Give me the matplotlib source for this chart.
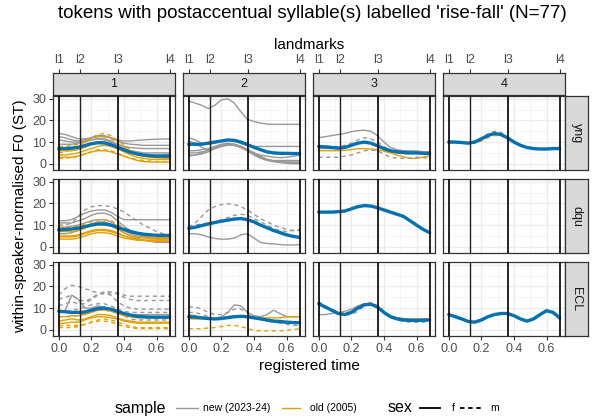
import matplotlib.pyplot as plt
from matplotlib.lines import Line2D

# registered time grid for all contours
t = [0.0, 0.04, 0.08, 0.12, 0.16, 0.20, 0.24, 0.28, 0.32, 0.36,
     0.40, 0.44, 0.48, 0.52, 0.56, 0.60, 0.64, 0.68]

landmarks = [0.0, 0.13, 0.364, 0.68]
landmark_labels = ["l1", "l2", "l3", "l4"]
groups = ["yng", "dqu", "ECL"]
positions = ["1", "2", "3", "4"]

# contours: (sample, sex, F0 values)
yng_1 = [
    ("new", "f", [14, 13.5, 12.5, 11.5, 11.5, 12, 12.5, 12.5, 12, 11, 10.5, 10.5, 10.8, 11, 11.2, 11.3, 11.4, 11.5]),
    ("new", "f", [12.5, 12, 11, 10.5, 11, 12, 13, 13, 12, 10.5, 9.5, 9, 8.8, 8.5, 8.5, 8.5, 8.5, 8.5]),
    ("new", "f", [11, 10.5, 10, 10, 10.5, 11, 11.5, 11.5, 10.5, 9, 8, 7.5, 7.2, 7, 7, 7, 7, 7]),
    ("new", "f", [9, 9, 9, 9.5, 10, 11, 11.5, 11, 10, 8.5, 7, 6, 5.5, 5, 5, 5, 5, 5]),
    ("new", "f", [6, 6.5, 7, 7.5, 8.5, 9.5, 10, 10, 9, 7.5, 6, 5, 4.5, 4, 4, 4, 4.2, 4.5]),
    ("old", "m", [5, 5.5, 6.5, 8, 10, 12, 13.5, 14, 13, 11, 8.5, 6.5, 5, 4, 3.5, 3, 2.8, 2.5]),
    ("old", "m", [8, 8, 8.5, 9, 10, 11.5, 12.5, 12.5, 11.5, 9.5, 7.5, 6, 5, 4.5, 4, 3.5, 3.5, 3.5]),
    ("old", "f", [4, 4, 4.5, 5, 6, 7, 8, 8.5, 8, 7, 5.5, 4, 3, 2.5, 2, 2, 2, 2]),
    ("old", "f", [3, 3, 3, 3.5, 4.5, 5.5, 6, 6, 5.5, 4.5, 3.5, 2.5, 1.5, 1, 0.8, 0.8, 0.8, 0.8]),
    ("old", "f", [6, 6, 6, 6.5, 7.5, 9, 10, 10, 9, 7.5, 6, 5, 4.2, 3.5, 3, 2.8, 2.5, 2.5]),
    ("old", "m", [2.5, 2.5, 3, 3.5, 4.5, 5.5, 6.5, 6.5, 6, 5, 3.5, 2.5, 2, 1.5, 1.2, 1, 1, 1]),
]
yng_2 = [
    ("new", "f", [29, 28, 27, 25.5, 27, 29.5, 30, 28, 24, 20.5, 19.5, 18.8, 18.3, 18.2, 18.2, 18.2, 18.2, 18.2]),
    ("new", "f", [12, 11, 9.5, 9, 9.5, 10.5, 11, 10.5, 9.5, 8.5, 8, 8, 8, 8, 8, 8, 8, 8]),
    ("new", "f", [10.5, 9.5, 7.5, 6.5, 7, 8, 9, 8.8, 8, 6.5, 5, 4, 3.5, 3, 2.8, 3, 3.5, 4]),
    ("new", "f", [4, 4, 4.5, 5.5, 7, 8.5, 9, 8.5, 7.5, 6, 4, 2.5, 1.5, 1, 0.8, 0.8, 0.8, 0.8]),
    ("new", "f", [3.5, 4, 5, 6.5, 7.5, 8.5, 9, 9, 8, 6.5, 4.5, 3, 2, 1.5, 1.5, 1.5, 1.5, 1.5]),
    ("new", "f", [6, 6, 6.5, 7, 8, 9, 9.5, 9, 8, 6.5, 5, 3.5, 2, 1.2, 1, 0.8, 0.5, 0.5]),
    ("new", "f", [5, 5, 5.5, 6, 7, 8, 8.5, 8.5, 7.5, 6, 4.5, 3, 2, 1, 0.5, 0.2, 0, 0]),
]
yng_3 = [
    ("new", "f", [12, 12.5, 13, 13.5, 14, 14.8, 15.3, 15.5, 15, 13, 10, 7.5, 6.5, 6, 6, 5.8, 5.6, 5.5]),
    ("new", "m", [8, 8, 8, 8, 8.5, 9.5, 11, 12, 11.5, 10, 8, 6, 5, 4.5, 4.5, 5, 5, 5]),
    ("new", "f", [7, 7, 7, 7, 7.5, 8.5, 9.5, 10, 9.5, 8, 6.5, 5.5, 5, 5, 5.5, 5.8, 5.5, 5]),
    ("old", "f", [6, 6, 6, 6, 6.2, 6.5, 7, 7, 6.8, 6.5, 5.8, 5, 4, 3.2, 2.5, 2.5, 3, 3.5]),
    ("new", "m", [3, 3, 3, 3, 3.5, 4, 5, 6, 6.3, 6, 4.5, 3, 2.5, 2.5, 2.5, 3, 2.8, 2.5]),
]
yng_4 = [
    ("new", "m", [10.5, 10.3, 10, 9.8, 10.5, 12, 13.8, 15, 14.5, 12.5, 10.5, 8.8, 7.8, 7.2, 7, 7.2, 7.5, 7.5]),
    ("old", "m", [9.8, 9.8, 9.6, 9.3, 9.5, 10.5, 12, 13, 13, 11.5, 9.8, 8.3, 7.3, 6.8, 6.6, 6.6, 6.8, 6.5]),
]
dqu_1 = [
    ("new", "m", [10, 10, 11, 14, 17, 18.5, 19, 19, 18.5, 17.5, 16, 14, 12, 10, 8.5, 7, 6, 5.5]),
    ("new", "f", [12, 12, 12.5, 14, 15.5, 16.5, 17, 17, 16, 14, 12.5, 12.5, 12.5, 12.5, 12.5, 12.5, 12.5, 12.5]),
    ("new", "f", [11, 11, 11, 12, 13, 14.5, 15.5, 15.5, 14.5, 12, 9.5, 7.5, 6, 5, 4.5, 4, 3.5, 3.5]),
    ("new", "f", [6, 6, 6.5, 7.5, 9, 10.5, 11.5, 11.5, 10.5, 8.5, 6.5, 5, 4, 3, 2.5, 2, 2, 2]),
    ("new", "f", [9, 9, 9.5, 10, 11, 12, 12.5, 12.5, 11.5, 9.5, 7.5, 6, 5, 4.5, 4, 4, 4, 4]),
    ("old", "f", [5, 5, 5, 5.5, 6.5, 7.5, 8, 8, 7.5, 6.5, 5, 4, 3.5, 3, 3, 3, 3, 3]),
    ("old", "f", [3.5, 3.5, 3.5, 4, 5, 6, 6.5, 6.5, 6, 5, 4, 3.5, 3, 3, 3, 3.2, 3.5, 3.5]),
    ("old", "f", [7, 7, 7, 7.5, 8.5, 10, 11, 11, 10, 8, 6.5, 5, 4.5, 4, 4, 4, 4, 4]),
    ("old", "m", [9, 9, 9, 9.5, 10.5, 11.5, 12.5, 12.5, 12, 10.5, 8.5, 7, 6, 5, 4.5, 4, 4, 4]),
    ("old", "f", [4.5, 4.5, 4.5, 5, 6, 7, 7.5, 7.5, 7, 6, 5, 4, 3.5, 3, 2.5, 2.5, 2.5, 2.5]),
]
dqu_2 = [
    ("new", "m", [9, 11, 14, 17, 18.5, 19.5, 19.8, 19.5, 18.5, 17, 15, 13, 11.5, 10, 9, 8, 7.5, 7.5]),
    ("new", "m", [9, 10, 10.5, 11, 11.5, 12.5, 13.5, 14.5, 15, 14.5, 13, 11.5, 10, 8.5, 7.5, 7, 7.5, 8]),
    ("new", "f", [6, 6, 5.5, 4.5, 3.8, 3.5, 3.5, 4, 5.5, 6, 4, 2, 1.5, 1.3, 1, 0.8, 0.8, 1]),
]
dqu_3 = []
dqu_4 = []
ecl_1 = [
    ("new", "m", [16, 19, 20.5, 20, 19, 18, 17, 16.5, 17, 17, 16, 15.5, 15.5, 15.5, 15.5, 15.5, 15.5, 15.5]),
    ("new", "m", [14, 15, 16, 14, 13, 14.5, 16.5, 17.5, 17.5, 16.5, 15, 14, 13.5, 13.5, 13.5, 13.5, 13.5, 13.5]),
    ("new", "m", [11, 12, 13, 12, 12, 14, 16, 17, 16, 13, 11, 10, 9.5, 9.5, 9.5, 9.5, 9.5, 9.5]),
    ("new", "f", [8, 9, 16, 14, 10, 10, 11, 10.5, 9.5, 8.5, 7.5, 7, 7, 7, 7, 7, 7, 7]),
    ("new", "m", [6, 6, 6, 6.5, 7.5, 8.5, 9.5, 10, 9.5, 8, 6.5, 5, 4.5, 4.5, 4.5, 4.5, 4.5, 4.5]),
    ("new", "m", [8.5, 8.5, 9, 9.5, 10.5, 11.5, 12, 12, 11, 9.5, 8.5, 8, 8, 8, 8, 8, 8, 8]),
    ("old", "f", [3, 3, 3.5, 3.5, 4.5, 5.5, 6, 6, 5.5, 5, 4, 3.5, 3, 3, 3, 3, 3, 3]),
    ("old", "f", [4, 4.5, 5, 4.5, 5, 6, 7, 7, 6.5, 5.5, 4.5, 4, 3.5, 3.5, 3.5, 3.5, 3.5, 3.5]),
    ("old", "m", [2, 2, 2, 2, 2.5, 3.5, 4.5, 5, 4.5, 3.5, 2.5, 1.5, 1, 1, 1, 1, 1, 1]),
    ("old", "m", [1, 1, 1, 1.5, 2.5, 3.5, 4, 4, 3.5, 2.5, 1.5, 1, 0.5, 0.5, 0.5, 0.5, 0.5, 0.5]),
    ("old", "f", [6, 6, 6.5, 6.5, 7, 8, 9, 9, 8.5, 7.5, 6.5, 6, 5.5, 5.5, 5.5, 5.5, 5.5, 5.5]),
]
ecl_2 = [
    ("new", "f", [7, 6.5, 5.5, 5, 5, 6, 8, 11.5, 11, 8, 6.5, 6, 7, 9, 7.5, 6, 6, 6]),
    ("new", "m", [10.5, 10.5, 9.5, 8, 7, 7, 8, 9.5, 9.5, 8, 6, 5, 4, 3.5, 3.2, 3, 3, 3]),
    ("new", "m", [8, 8, 7, 6, 5, 5, 5.5, 6, 6.5, 6.5, 6, 5, 4, 3.5, 3, 2.5, 2, 2]),
    ("old", "f", [5, 5, 5, 5, 5, 5.5, 6, 6.5, 6.5, 6, 5.5, 5.5, 5.5, 5.5, 5.5, 6, 6, 6]),
    ("old", "m", [0.5, 0.5, 0.5, 0.8, 1, 1.5, 2, 2, 1.5, 0.5, -0.3, -0.5, -0.5, -0.5, -0.5, -0.3, 0, 0.5]),
]
ecl_3 = [
    ("new", "m", [13, 11, 9, 8, 7, 7, 8.5, 11, 12, 11, 8.5, 6, 4.5, 3.8, 3.5, 3.5, 3.5, 4]),
    ("new", "f", [7, 7, 7.5, 8, 8.5, 9.5, 11, 12, 12, 10.5, 8, 6.5, 5.5, 5.2, 5, 5, 5, 5]),
    ("old", "m", [12, 11, 9.5, 8, 7.5, 8.5, 10.5, 12, 12.5, 11, 8.5, 6.5, 5.2, 4.8, 4.8, 5, 5, 5]),
]
ecl_4 = [
    ("old", "f", [6.8, 5.8, 4.8, 3.6, 3.3, 4.3, 5.8, 6.8, 7.3, 7.3, 6.3, 4.8, 3.6, 4.6, 6.7, 8.5, 7.8, 5.3]),
]

# mean contour per panel
mean_yng = [
    [7, 7, 7.2, 7.6, 8.4, 9.2, 9.7, 9.6, 8.8, 7.6, 6.4, 5.3, 4.5, 4.0, 3.7, 3.5, 3.5, 3.5],
    [9, 9, 9, 9.5, 10, 10.5, 11, 10.8, 10, 8.8, 7.6, 6.5, 5.5, 5, 4.8, 4.8, 4.7, 4.7],
    [8, 7.8, 7.5, 7.2, 7.5, 8.5, 9.5, 10, 9.5, 8.3, 7, 6, 5.5, 5.2, 5, 5, 4.8, 4.7],
    [10, 10, 9.8, 9.5, 10, 11.5, 13, 14, 13.5, 12, 10, 8.5, 7.5, 7, 6.8, 6.8, 7, 7],
]
mean_dqu = [
    [7.8, 8, 8.2, 8.6, 9.3, 10, 10.5, 10.5, 10, 9, 8, 7, 6.3, 5.8, 5.5, 5.3, 5.2, 5.2],
    [8.5, 9, 9.8, 10.5, 11.2, 11.8, 12.3, 12.8, 13, 12.5, 11.5, 10, 8.8, 7.5, 6.5, 5.5, 4.8, 4.3],
    [16, 16, 16, 16.2, 16.5, 17.5, 18.5, 19, 18.8, 18, 17, 16, 15, 14, 12, 10, 8, 6.5],
    None,
]
mean_ecl = [
    [8.5, 8.3, 8, 8, 8.2, 9, 9.8, 10, 9.5, 8.5, 7.5, 6.8, 6.2, 6, 5.8, 5.8, 5.8, 5.8],
    [6, 5.8, 5.5, 5.2, 5, 5.2, 5.6, 6, 6.2, 6, 5.5, 5, 4.5, 4, 3.8, 3.5, 3.3, 3.2],
    [12, 10.5, 9, 7.5, 7, 8, 10, 11.5, 11.8, 10.5, 8, 6, 5, 4.5, 4.3, 4.3, 4.4, 4.5],
    [7, 6, 5, 3.8, 3.5, 4.5, 6, 7, 7.5, 7.5, 6.5, 5, 4, 5, 7, 8.8, 8, 5.5],
]

contours = [[yng_1, yng_2, yng_3, yng_4],
            [dqu_1, dqu_2, dqu_3, dqu_4],
            [ecl_1, ecl_2, ecl_3, ecl_4]]
means = [mean_yng, mean_dqu, mean_ecl]

colours = {"new": "#999999", "old": "#E69F00"}
styles = {"f": "-", "m": (0, (3, 2.5))}
blue = "#0072B2"
border = "#333333"
strip_fill = "#D9D9D9"
txt = "#4D4D4D"

plt.rcParams['font.family'] = ['Liberation Sans', 'DejaVu Sans']

W, H = 601, 420
fig = plt.figure(figsize=(W / 100, H / 100), dpi=100)


def box(x, y, w, h):
    return [x / W, 1 - (y + h) / H, w / W, h / H]


col_x = [53, 183, 313, 443]
row_y = [96, 179, 262]
pw, ph = 122, 74
xlim = (-0.035, 0.713)
ylim = (-2.9, 31.3)

for r in range(3):
    for c in range(4):
        ax = fig.add_axes(box(col_x[c], row_y[r], pw, ph))
        ax.set_xlim(*xlim)
        ax.set_ylim(*ylim)
        ax.set_xticks([0, 0.2, 0.4, 0.6])
        ax.set_xticks([0.1, 0.3, 0.5], minor=True)
        ax.set_yticks([0, 10, 20, 30])
        ax.set_yticks([5, 15, 25], minor=True)
        ax.grid(which='major', color='#EBEBEB', lw=0.9)
        ax.grid(which='minor', color='#F2F2F2', lw=0.5)
        ax.set_axisbelow(True)
        for s in ax.spines.values():
            s.set_color(border)
            s.set_linewidth(0.9)
        ax.tick_params(which='minor', length=0)
        ax.tick_params(which='major', length=3, color=border, labelcolor=txt,
                       labelsize=9, pad=2)
        if c != 0:
            ax.tick_params(axis='y', length=0, labelleft=False)
        else:
            ax.set_yticklabels(["0", "10", "20", "30"])
        if r != 2:
            ax.tick_params(axis='x', length=0, labelbottom=False)
        else:
            ax.set_xticklabels(["0.0", "0.2", "0.4", "0.6"])

        for sample, sex, vals in contours[r][c]:
            ax.plot(t, vals, color=colours[sample], linestyle=styles[sex],
                    lw=1.0, zorder=2)
        if means[r][c] is not None:
            ax.plot(t, means[r][c], color=blue, lw=2.4, zorder=3,
                    solid_capstyle='round')
        for k, lm in enumerate(landmarks):
            ax.axvline(lm, color='black' if k != 1 else '#222222',
                       lw=1.2 if k != 1 else 1.0, zorder=4)

        # column strips with landmark ticks on top
        if r == 0:
            sax = fig.add_axes(box(col_x[c], 73, pw, 22))
            sax.set_facecolor(strip_fill)
            sax.set_xlim(*xlim)
            sax.set_ylim(0, 1)
            for s in sax.spines.values():
                s.set_color(border)
                s.set_linewidth(0.9)
            sax.set_yticks([])
            sax.xaxis.tick_top()
            sax.set_xticks(landmarks)
            sax.set_xticklabels(landmark_labels)
            sax.tick_params(axis='x', length=3, color=border, labelcolor=txt,
                            labelsize=9, pad=2)
            sax.text(0.5, 0.5, positions[c], transform=sax.transAxes,
                     ha='center', va='center', fontsize=9, color='#1A1A1A')

    # row strips
    rax = fig.add_axes(box(565, row_y[r], 23, ph))
    rax.set_facecolor(strip_fill)
    rax.set_xticks([])
    rax.set_yticks([])
    for s in rax.spines.values():
        s.set_color(border)
        s.set_linewidth(0.9)
    rax.text(0.5, 0.5, groups[r], transform=rax.transAxes, rotation=-90,
             ha='center', va='center', fontsize=9, color='#1A1A1A')

fig.text(312 / W, 1 - 13 / H,
         "tokens with postaccentual syllable(s) labelled 'rise-fall' (N=77)",
         ha='center', va='center', fontsize=13.5)
fig.text(309 / W, 1 - 45 / H, "landmarks", ha='center', va='center',
         fontsize=11)
fig.text(309 / W, 1 - 366 / H, "registered time", ha='center', va='center',
         fontsize=11)
fig.text(20 / W, 1 - 216 / H, "within-speaker-normalised F0 (ST)",
         ha='center', va='center', rotation=90, fontsize=11)

# legend row
ly = 1 - 408 / H
fig.text(115 / W, ly, "sample", ha='left', va='center', fontsize=11.5)
fig.add_artist(Line2D([176 / W, 198 / W], [ly, ly], color=colours["new"], lw=1.0))
fig.text(203 / W, ly, "new (2023-24)", ha='left', va='center', fontsize=7.5)
fig.add_artist(Line2D([282 / W, 300 / W], [ly, ly], color=colours["old"], lw=1.0))
fig.text(310 / W, ly, "old (2005)", ha='left', va='center', fontsize=7.5)
fig.text(388 / W, ly, "sex", ha='left', va='center', fontsize=11.5)
fig.add_artist(Line2D([420 / W, 440 / W], [ly, ly], color='black', lw=1.3))
fig.text(452 / W, ly, "f", ha='left', va='center', fontsize=7.5)
fig.add_artist(Line2D([460 / W, 481 / W], [ly, ly], color='black', lw=1.3,
                      linestyle=(0, (2.5, 2))))
fig.text(490 / W, ly, "m", ha='left', va='center', fontsize=7.5)

fig.savefig("out.png", dpi=100)
